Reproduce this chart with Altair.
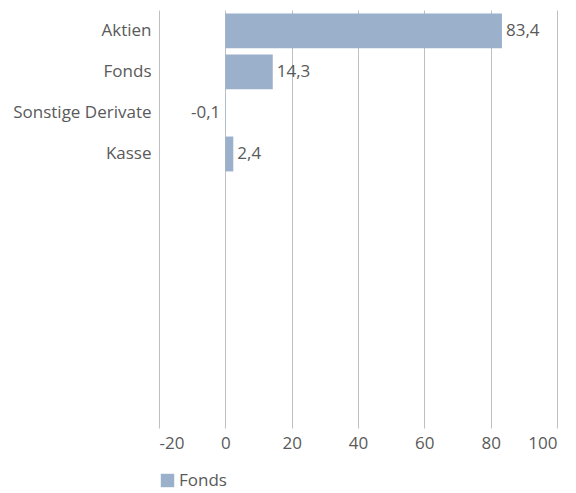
import altair as alt
import pandas as pd

categories = ["Aktien", "Fonds", "Sonstige Derivate", "Kasse"]
values = [83.4, 14.3, -0.1, 2.4]
series = "Fonds"
x_ticks = [-20, 0, 20, 40, 60, 80, 100]

blanks = [" " * i for i in range(1, 7)]
domain = categories + blanks

df = pd.DataFrame({"cat": categories, "val": values, "series": series})
df["label"] = df["val"].map(lambda v: f"{v:.1f}".replace(".", ","))

FONT = "Open Sans"
FS = 17
TXT = "#5a5a5a"
BAR = "#9ab0cb"

y_scale = alt.Scale(domain=domain, paddingInner=0.15, paddingOuter=0.17, align=0.25)
y_enc = alt.Y("cat:N", scale=y_scale,
              axis=alt.Axis(title=None, ticks=False, domain=False, labelPadding=8,
                            labelFontSize=FS, labelColor=TXT, labelFont=FONT, grid=False))
x_scale = alt.Scale(domain=[-20, 100], nice=False, zero=False)

base = alt.Chart(df)

bars = base.mark_bar(color=BAR).encode(
    x=alt.X("val:Q", scale=x_scale,
            axis=alt.Axis(title=None, values=x_ticks, ticks=False, domain=False,
                          grid=True, gridColor="#bfbfbf", gridWidth=1,
                          labelFontSize=FS, labelColor=TXT, labelFont=FONT, labelPadding=7,
                          labelExpr="datum.value + ''")),
    x2=alt.datum(0),
    y=y_enc,
    color=alt.Color("series:N", scale=alt.Scale(range=[BAR]),
                    legend=alt.Legend(title=None, orient="none", legendX=0, legendY=462,
                                      symbolType="square", symbolSize=180, symbolStrokeWidth=0,
                                      labelFontSize=FS, labelColor=TXT, labelFont=FONT,
                                      labelOffset=3)),
)

pos = base.transform_filter("datum.val >= 0").mark_text(
    align="left", baseline="middle", dx=4, fontSize=FS, font=FONT, color=TXT
).encode(x=alt.X("val:Q", scale=x_scale), y=alt.Y("cat:N", scale=y_scale), text="label:N")

neg = base.transform_filter("datum.val < 0").mark_text(
    align="right", baseline="middle", dx=-5, fontSize=FS, font=FONT, color=TXT
).encode(x=alt.datum(0), y=alt.Y("cat:N", scale=y_scale), text="label:N")

chart = alt.layer(bars, pos, neg).properties(
    width=398, height=418,
    autosize=alt.AutoSizeParams(type="none"),
    padding={"left": 151, "top": 2, "right": 10, "bottom": 63},
    background="white",
).configure_view(stroke=None)

chart.save("out.html", embed_options={"renderer": "svg", "actions": False})
